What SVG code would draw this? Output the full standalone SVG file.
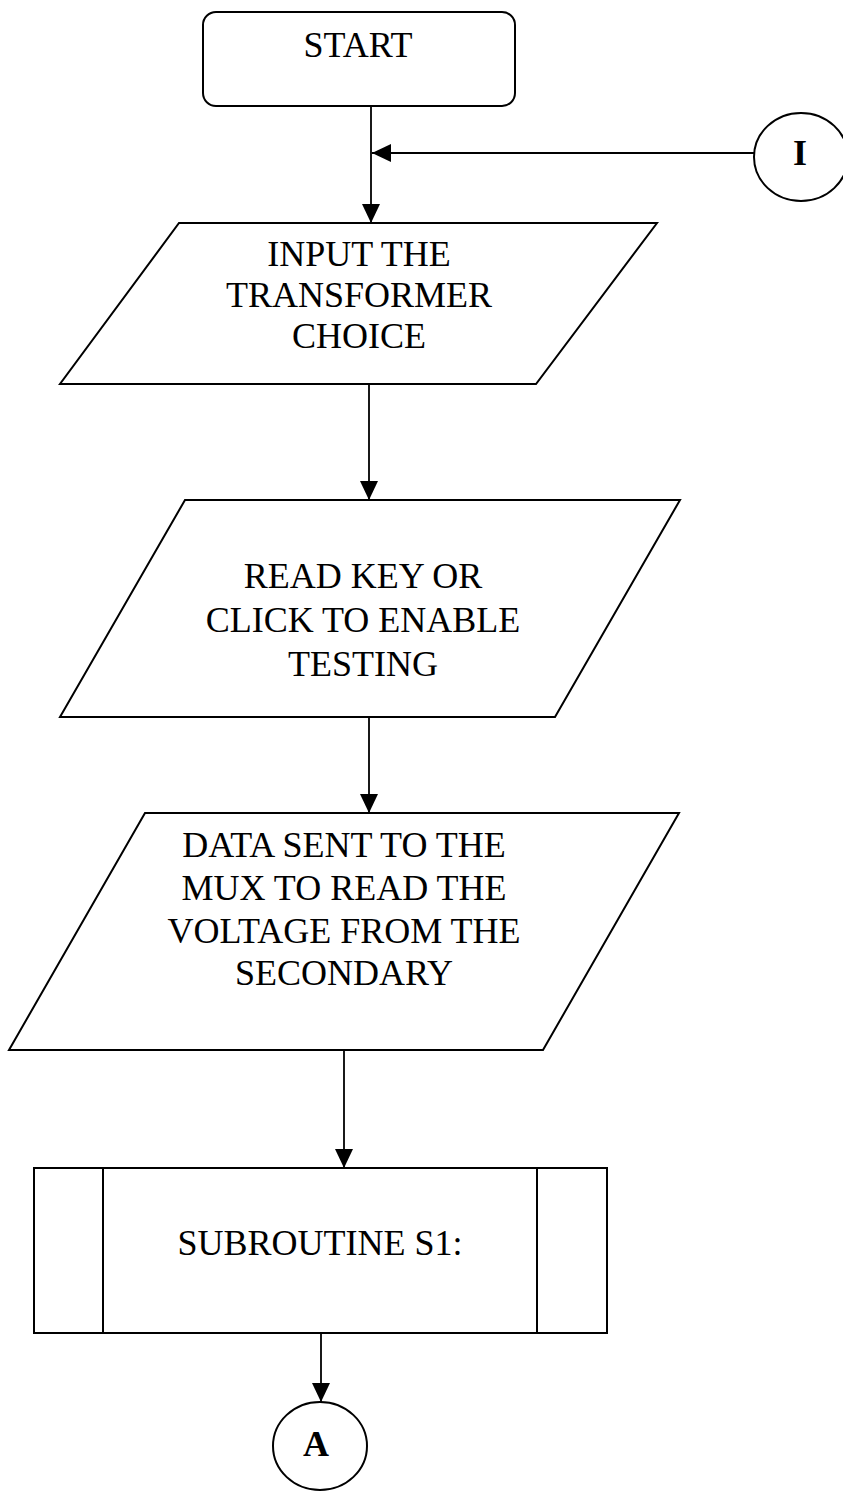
<svg xmlns="http://www.w3.org/2000/svg" width="843" height="1491" viewBox="0 0 843 1491">
<defs>
<style>
.s{fill:#fff;stroke:#000;stroke-width:2}
.t{font-family:"Liberation Serif","Times New Roman",serif;font-size:36px;fill:#000;text-anchor:middle}
.b{font-family:"Liberation Serif","Times New Roman",serif;font-size:36px;font-weight:bold;fill:#000;text-anchor:middle}
.c{fill:none;stroke:#000;stroke-width:1.8}
</style>
<marker id="ah" markerUnits="userSpaceOnUse" markerWidth="20" markerHeight="20" viewBox="0 0 20 20" refX="19" refY="10" orient="auto">
<path d="M0,1 L19,10 L0,19 Z" fill="#000"/>
</marker>
</defs>
<rect width="843" height="1491" fill="#fff"/>
<g id="connectors">
<path class="c" d="M371,106 V223" marker-end="url(#ah)"/>
<path class="c" d="M754,153 H372" marker-end="url(#ah)"/>
<path class="c" d="M369,384 V500" marker-end="url(#ah)"/>
<path class="c" d="M369,717 V813" marker-end="url(#ah)"/>
<path class="c" d="M344,1050 V1168" marker-end="url(#ah)"/>
<path class="c" d="M321,1333 V1402" marker-end="url(#ah)"/>
</g>
<g id="start">
<rect class="s" x="203" y="12" width="312" height="94" rx="13"/>
<text class="t" x="358" y="57">START</text>
</g>
<g id="connector-i">
<ellipse class="s" cx="801" cy="157" rx="47" ry="44"/>
<text class="b" x="800" y="165">I</text>
</g>
<g id="input-choice">
<polygon class="s" points="179,223 657,223 536,384 60,384"/>
<text class="t" x="359" y="266">INPUT THE</text>
<text class="t" x="359" y="307">TRANSFORMER</text>
<text class="t" x="359" y="348">CHOICE</text>
</g>
<g id="read-key">
<polygon class="s" points="185,500 680,500 555,717 60,717"/>
<text class="t" x="363" y="588">READ KEY OR</text>
<text class="t" x="363" y="632">CLICK TO ENABLE</text>
<text class="t" x="363" y="676">TESTING</text>
</g>
<g id="data-sent">
<polygon class="s" points="145,813 679,813 543,1050 9,1050"/>
<text class="t" x="344" y="857">DATA SENT TO THE</text>
<text class="t" x="344" y="900">MUX TO READ THE</text>
<text class="t" x="344" y="943">VOLTAGE FROM THE</text>
<text class="t" x="344" y="985">SECONDARY</text>
</g>
<g id="subroutine">
<rect class="s" x="34" y="1168" width="573" height="165"/>
<line class="s" x1="103" y1="1168" x2="103" y2="1333"/>
<line class="s" x1="537" y1="1168" x2="537" y2="1333"/>
<text class="t" x="320" y="1255">SUBROUTINE S1:</text>
</g>
<g id="connector-a">
<ellipse class="s" cx="320" cy="1446" rx="47" ry="44"/>
<text class="b" x="316" y="1456">A</text>
</g>
</svg>
